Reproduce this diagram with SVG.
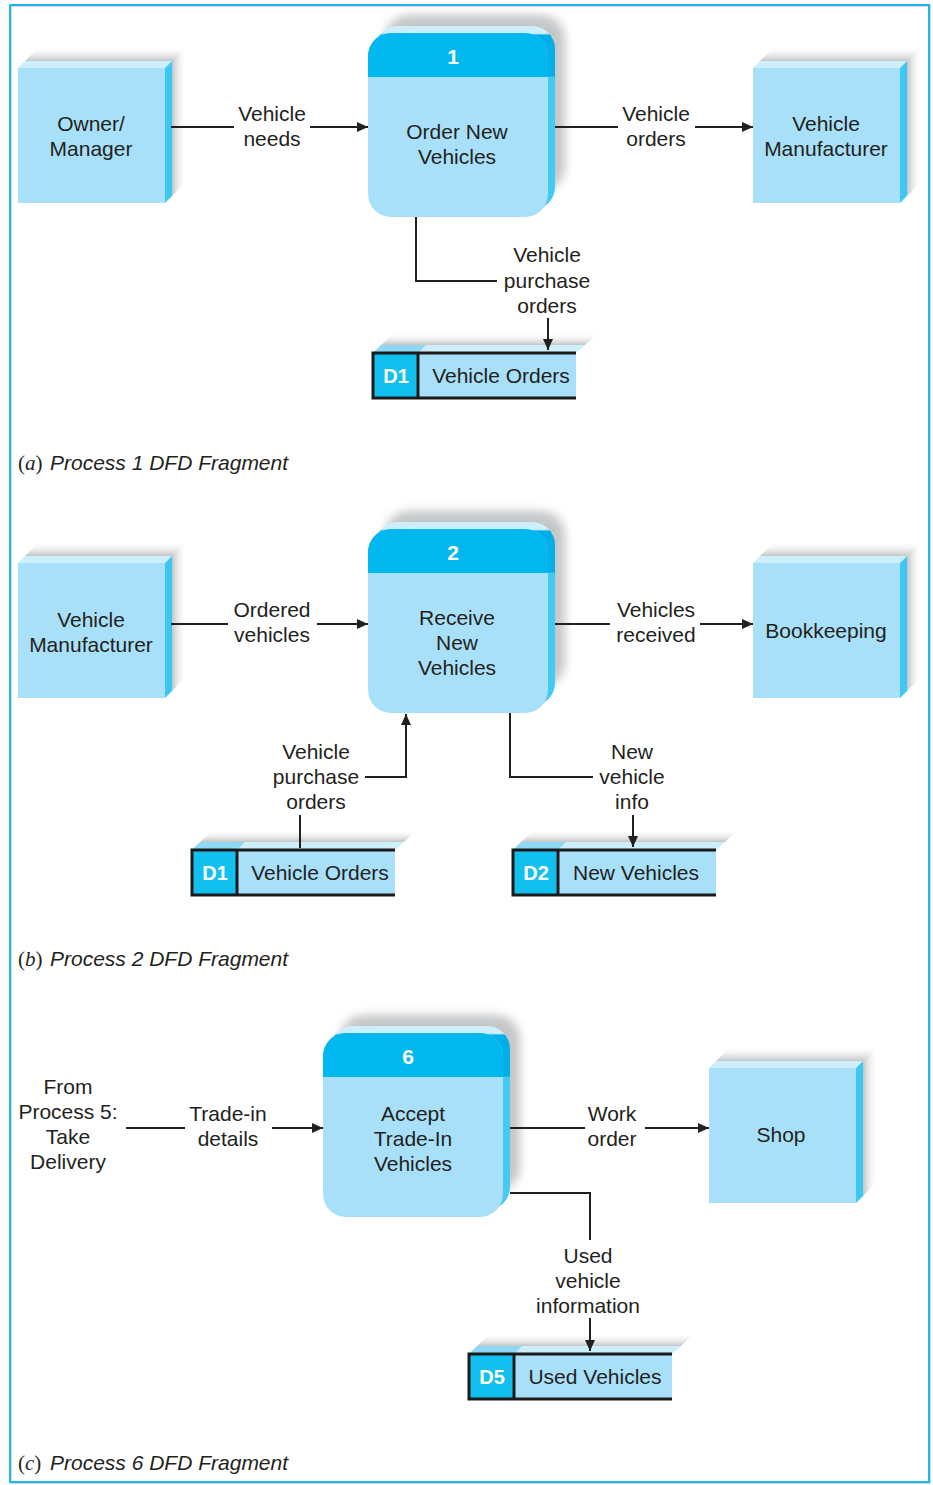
<svg xmlns="http://www.w3.org/2000/svg" xmlns:xlink="http://www.w3.org/1999/xlink" width="933" height="1485" viewBox="0 0 933 1485">
<defs>
<style>
text{font-family:"Liberation Sans",Arial,sans-serif;font-size:21px;fill:#231f20;text-anchor:middle}
.num{fill:#fff;font-weight:bold}
.sid{fill:#fff;font-weight:bold;font-size:20px}
.cap{text-anchor:start}
.conn{fill:none;stroke:#231f20;stroke-width:2}
.face{fill:#a8e0f9}
.top{fill:#cdeefb}
.side{fill:#3cc8f2}
.sb{fill:none;stroke:#1a1a1a;stroke-width:3}
</style>
<linearGradient id="gT" x1="0" y1="1" x2="0" y2="0"><stop offset="0" stop-color="#c2c4c6"/><stop offset="1" stop-color="#ffffff" stop-opacity="0"/></linearGradient>
<linearGradient id="gR" x1="0" y1="0" x2="1" y2="0"><stop offset="0" stop-color="#c2c4c6"/><stop offset="1" stop-color="#ffffff" stop-opacity="0"/></linearGradient>
<linearGradient id="gP" x1="0" y1="0" x2="0" y2="1"><stop offset="0" stop-color="#cdeefb"/><stop offset="0.04" stop-color="#cdeefb"/><stop offset="0.05" stop-color="#00aee8"/><stop offset="0.27" stop-color="#00aee8"/><stop offset="0.28" stop-color="#45c9f2"/><stop offset="1" stop-color="#45c9f2"/></linearGradient>
<filter id="blur" x="-20%" y="-20%" width="140%" height="140%"><feGaussianBlur stdDeviation="5"/></filter>
<marker id="arr" markerUnits="userSpaceOnUse" markerWidth="12" markerHeight="10" refX="11" refY="5" orient="auto"><path d="M0,0 L11,5 L0,10 z" fill="#231f20"/></marker>
<g id="ent">
<polygon points="7,-7 22,-22 169,-22 154,-7" fill="url(#gT)"/>
<polygon points="154,-7 169,-22 169,113 154,128" fill="url(#gR)"/>
<polygon class="top" points="0,0 7,-7 154,-7 147,0"/>
<polygon class="side" points="147,0 154,-7 154,128 147,135"/>
<rect class="face" x="0" y="0" width="147" height="135"/>
</g>
<g id="proc">
<rect x="17" y="-18" width="180" height="176" rx="24" fill="#c4c6c8" filter="url(#blur)"/>
<rect x="7" y="-7" width="180" height="184" rx="23" fill="url(#gP)"/>
<rect class="face" x="0" y="0" width="180" height="184" rx="23"/>
<path d="M0,44 V23 A23,23 0 0 1 23,0 H157 A23,23 0 0 1 180,23 V44 z" fill="#00b8ee"/>
</g>
<g id="store">
<polygon points="8,-8 22,-21 226,-21 212,-8" fill="url(#gT)"/>
<polygon points="0,0 8,-8 212,-8 203,0" fill="#cdeefb"/>
<polygon points="0,0 8,-8 53,-8 45,0" fill="#8fd8f5"/>
<rect x="0" y="0" width="203" height="45" class="face"/>
<rect x="0" y="0" width="45" height="45" fill="#12c0f0"/>
<path class="sb" d="M203,0 H0 V45 H203 M45,0 V45"/>
</g>
</defs>

<rect x="11" y="6" width="919" height="1477" fill="none" stroke="#d8d8d8" stroke-width="2"/>
<rect x="10" y="5" width="919" height="1477" fill="none" stroke="#1ab8ee" stroke-width="2"/>

<g id="owner-manager">
<use xlink:href="#ent" x="18" y="68"/>
<text x="91" y="131">Owner/</text><text x="91" y="156">Manager</text>
</g>
<g id="vehicle-manufacturer-a">
<use xlink:href="#ent" x="753" y="68"/>
<text x="826" y="131">Vehicle</text><text x="826" y="156">Manufacturer</text>
</g>
<g id="process-1">
<use xlink:href="#proc" x="368" y="33"/>
<text class="num" x="453" y="64">1</text>
<text x="457" y="139">Order New</text><text x="457" y="164">Vehicles</text>
</g>
<g id="store-d1-a">
<use xlink:href="#store" x="373" y="353"/>
<text class="sid" x="396" y="383">D1</text>
<text x="501" y="383">Vehicle Orders</text>
</g>
<text class="cap" x="18" y="470"><tspan style="font-family:'Liberation Serif',serif">(</tspan><tspan style="font-family:'Liberation Serif',serif;font-style:italic">a</tspan><tspan style="font-family:'Liberation Serif',serif">)</tspan><tspan x="50" style="font-style:italic">Process 1 DFD Fragment</tspan></text>

<g id="vehicle-manufacturer-b">
<use xlink:href="#ent" x="18" y="563"/>
<text x="91" y="627">Vehicle</text><text x="91" y="652">Manufacturer</text>
</g>
<g id="bookkeeping">
<use xlink:href="#ent" x="753" y="563"/>
<text x="826" y="638">Bookkeeping</text>
</g>
<g id="process-2">
<use xlink:href="#proc" x="368" y="529"/>
<text class="num" x="453" y="560">2</text>
<text x="457" y="625">Receive</text><text x="457" y="650">New</text><text x="457" y="675">Vehicles</text>
</g>
<g id="store-d1-b">
<use xlink:href="#store" x="192" y="850"/>
<text class="sid" x="215" y="880">D1</text>
<text x="320" y="880">Vehicle Orders</text>
</g>
<g id="store-d2">
<use xlink:href="#store" x="513" y="850"/>
<text class="sid" x="536" y="880">D2</text>
<text x="636" y="880">New Vehicles</text>
</g>
<text class="cap" x="18" y="966"><tspan style="font-family:'Liberation Serif',serif">(</tspan><tspan style="font-family:'Liberation Serif',serif;font-style:italic">b</tspan><tspan style="font-family:'Liberation Serif',serif">)</tspan><tspan x="50" style="font-style:italic">Process 2 DFD Fragment</tspan></text>

<g id="from-process-5">
<text x="68" y="1094">From</text><text x="68" y="1119">Process 5:</text><text x="68" y="1144">Take</text><text x="68" y="1169">Delivery</text>
</g>
<g id="process-6">
<use xlink:href="#proc" x="323" y="1033"/>
<text class="num" x="408" y="1064">6</text>
<text x="413" y="1121">Accept</text><text x="413" y="1146">Trade-In</text><text x="413" y="1171">Vehicles</text>
</g>
<g id="shop">
<use xlink:href="#ent" x="709" y="1068"/>
<text x="781" y="1142">Shop</text>
</g>
<g id="store-d5">
<use xlink:href="#store" x="469" y="1354"/>
<text class="sid" x="492" y="1384">D5</text>
<text x="595" y="1384">Used Vehicles</text>
</g>
<text class="cap" x="18" y="1470"><tspan style="font-family:'Liberation Serif',serif">(</tspan><tspan style="font-family:'Liberation Serif',serif;font-style:italic">c</tspan><tspan style="font-family:'Liberation Serif',serif">)</tspan><tspan x="50" style="font-style:italic">Process 6 DFD Fragment</tspan></text>

<g id="connectors">
<path class="conn" d="M171,127 H234"/>
<path class="conn" d="M310,127 H368" marker-end="url(#arr)"/>
<path class="conn" d="M555,127 H618"/>
<path class="conn" d="M695,127 H753" marker-end="url(#arr)"/>
<path class="conn" d="M416,217 V281 H497"/>
<path class="conn" d="M548,318 V350" marker-end="url(#arr)"/>

<path class="conn" d="M171,624 H228"/>
<path class="conn" d="M317,624 H368" marker-end="url(#arr)"/>
<path class="conn" d="M555,624 H610"/>
<path class="conn" d="M700,624 H753" marker-end="url(#arr)"/>
<path class="conn" d="M300,848 V815"/>
<path class="conn" d="M365,777 H406 V714" marker-end="url(#arr)"/>
<path class="conn" d="M510,713 V777 H593"/>
<path class="conn" d="M633,815 V847" marker-end="url(#arr)"/>

<path class="conn" d="M126,1128 H185"/>
<path class="conn" d="M272,1128 H323" marker-end="url(#arr)"/>
<path class="conn" d="M510,1128 H585"/>
<path class="conn" d="M645,1128 H709" marker-end="url(#arr)"/>
<path class="conn" d="M510,1193 H590 V1240"/>
<path class="conn" d="M590,1318 V1351" marker-end="url(#arr)"/>
</g>

<g id="labels">
<text x="272" y="121">Vehicle</text><text x="272" y="146">needs</text>
<text x="656" y="121">Vehicle</text><text x="656" y="146">orders</text>
<text x="547" y="262">Vehicle</text><text x="547" y="288">purchase</text><text x="547" y="313">orders</text>
<text x="272" y="617">Ordered</text><text x="272" y="642">vehicles</text>
<text x="656" y="617">Vehicles</text><text x="656" y="642">received</text>
<text x="316" y="759">Vehicle</text><text x="316" y="784">purchase</text><text x="316" y="809">orders</text>
<text x="632" y="759">New</text><text x="632" y="784">vehicle</text><text x="632" y="809">info</text>
<text x="228" y="1121">Trade-in</text><text x="228" y="1146">details</text>
<text x="612" y="1121">Work</text><text x="612" y="1146">order</text>
<text x="588" y="1263">Used</text><text x="588" y="1288">vehicle</text><text x="588" y="1313">information</text>
</g>
</svg>
